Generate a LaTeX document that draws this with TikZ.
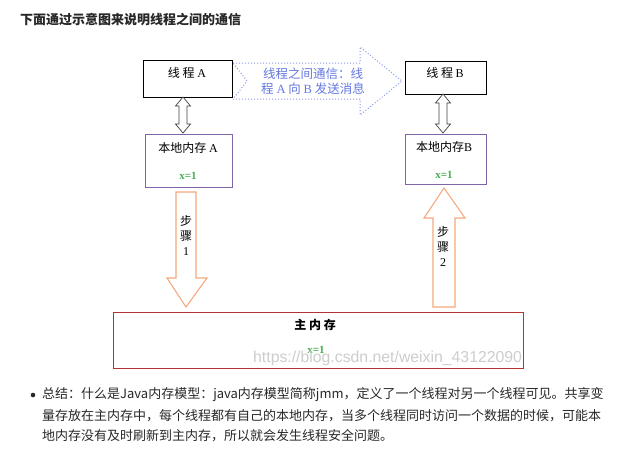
\documentclass[tikz,border=0pt]{standalone}
\usepackage{fontspec}
\setmainfont{Noto Sans CJK SC}
\newfontfamily\lserif{Liberation Serif}
\newfontfamily\lsans{Liberation Sans}
\definecolor{purplebox}{RGB}{128,100,170}
\definecolor{redbox}{RGB}{180,50,50}
\definecolor{orangearr}{RGB}{245,170,125}
\definecolor{bluearr}{RGB}{140,155,235}
\definecolor{bluetxt}{RGB}{100,120,225}
\definecolor{greentxt}{RGB}{70,175,80}
\definecolor{darktxt}{RGB}{40,40,40}
\definecolor{wmark}{RGB}{205,205,205}
\begin{document}
\begin{tikzpicture}[x=1pt,y=-1pt,
  box/.style={draw, line width=0.8pt, inner sep=0pt},
  txt/.style={inner sep=0pt, text=black, font=\fontsize{12}{14}\selectfont},
  para/.style={inner sep=0pt, anchor=west, text=darktxt, font=\fontsize{13}{15}\selectfont},
  greenx/.style={inner sep=0pt, text=greentxt, font=\lserif\bfseries\fontsize{11}{13}\selectfont},
  hollow/.style={draw=black!75, line width=0.7pt, fill=white},
  blockarrow/.style={draw=orangearr, line width=1.1pt, fill=white},
  msgarrow/.style={draw=bluearr, line width=1pt, dotted, fill=white}]
\useasboundingbox (0,0) rectangle (623,459);
\fill[white] (0,0) rectangle (623,459);

% title
\node[inner sep=0pt, anchor=west, text=darktxt, font=\bfseries\fontsize{13}{15}\selectfont] (title) at (20,20) {下面通过示意图来说明线程之间的通信};

% boxes
\node[box, minimum width=89pt, minimum height=37pt] (ta) at (187.5,78.5) {};
\node[txt] (tat) at (187,73) {线 程 {\lserif A}};
\node[box, draw=purplebox, minimum width=87pt, minimum height=53pt] (la) at (188.5,160.5) {};
\node[txt] (lat) at (188,148) {本地内存 {\lserif A}};
\node[greenx] (lax) at (188,176) {x=1};

\node[box, minimum width=81pt, minimum height=33pt] (tb) at (445.5,77.5) {};
\node[txt] (tbt) at (445,73) {线 程 {\lserif B}};
\node[box, draw=purplebox, minimum width=81pt, minimum height=50pt] (lb) at (445.5,159) {};
\node[txt] (lbt) at (444,147) {本地内存{\lserif B}};
\node[greenx] (lbx) at (444,175) {x=1};

\node[box, draw=redbox, minimum width=410pt, minimum height=56pt] (mm) at (318,340) {};
\node[txt, font=\bfseries\fontsize{12}{14}\selectfont] (mmt) at (315,325) {主 内 存};
\node[greenx] (mmx) at (316,350) {x=1};
\node[inner sep=0pt, anchor=west, text=wmark, font=\lsans\fontsize{15.8}{17}\selectfont] (wm) at (253,358) {https://blog.csdn.net/weixin\_43122090};

% double arrows
\draw[hollow] (183,97) -- (190.5,106) -- (187,106) -- (187,124) -- (190.5,124) -- (183,133)
  -- (175.5,124) -- (179,124) -- (179,106) -- (175.5,106) -- cycle;
\draw[hollow] (443,94) -- (450.5,103) -- (447,103) -- (447,124) -- (450.5,124) -- (443,133)
  -- (435.5,124) -- (439,124) -- (439,103) -- (435.5,103) -- cycle;

% message arrow
\draw[msgarrow] (233,63) -- (360,63) -- (360,47) -- (402,81) -- (360,115) -- (360,99)
  -- (233,99) -- (247,81) -- cycle;
\node[inner sep=0pt, text=bluetxt, font=\fontsize{12.5}{14}\selectfont, align=center] (msg) at (313,81)
  {线程之间通信：线\\[1pt]程 {\lserif A} 向 {\lserif B} 发送消息};

% step arrows
\draw[blockarrow] (176,192) -- (196,192) -- (196,278) -- (207,278) -- (186,307) -- (167,278)
  -- (176,278) -- cycle;
\node[txt, align=center, font=\fontsize{12}{15}\selectfont] (s1) at (186,235) {步\\骤\\{\lserif 1}};
\draw[blockarrow] (433,307) -- (455,307) -- (455,218) -- (465,218) -- (444,188) -- (424,218)
  -- (433,218) -- cycle;
\node[txt, align=center, font=\fontsize{12}{15}\selectfont] (s2) at (443,246) {步\\骤\\{\lserif 2}};

% summary
\fill[darktxt] (33,395) circle (2.3pt);
\node[para] (l1) at (42,395) {总结：什么是Java内存模型：java内存模型简称jmm，定义了一个线程对另一个线程可见。共享变};
\node[para] (l2) at (42,416) {量存放在主内存中，每个线程都有自己的本地内存，当多个线程同时访问一个数据的时候，可能本};
\node[para] (l3) at (42,436) {地内存没有及时刷新到主内存，所以就会发生线程安全问题。};
\end{tikzpicture}
\end{document}
